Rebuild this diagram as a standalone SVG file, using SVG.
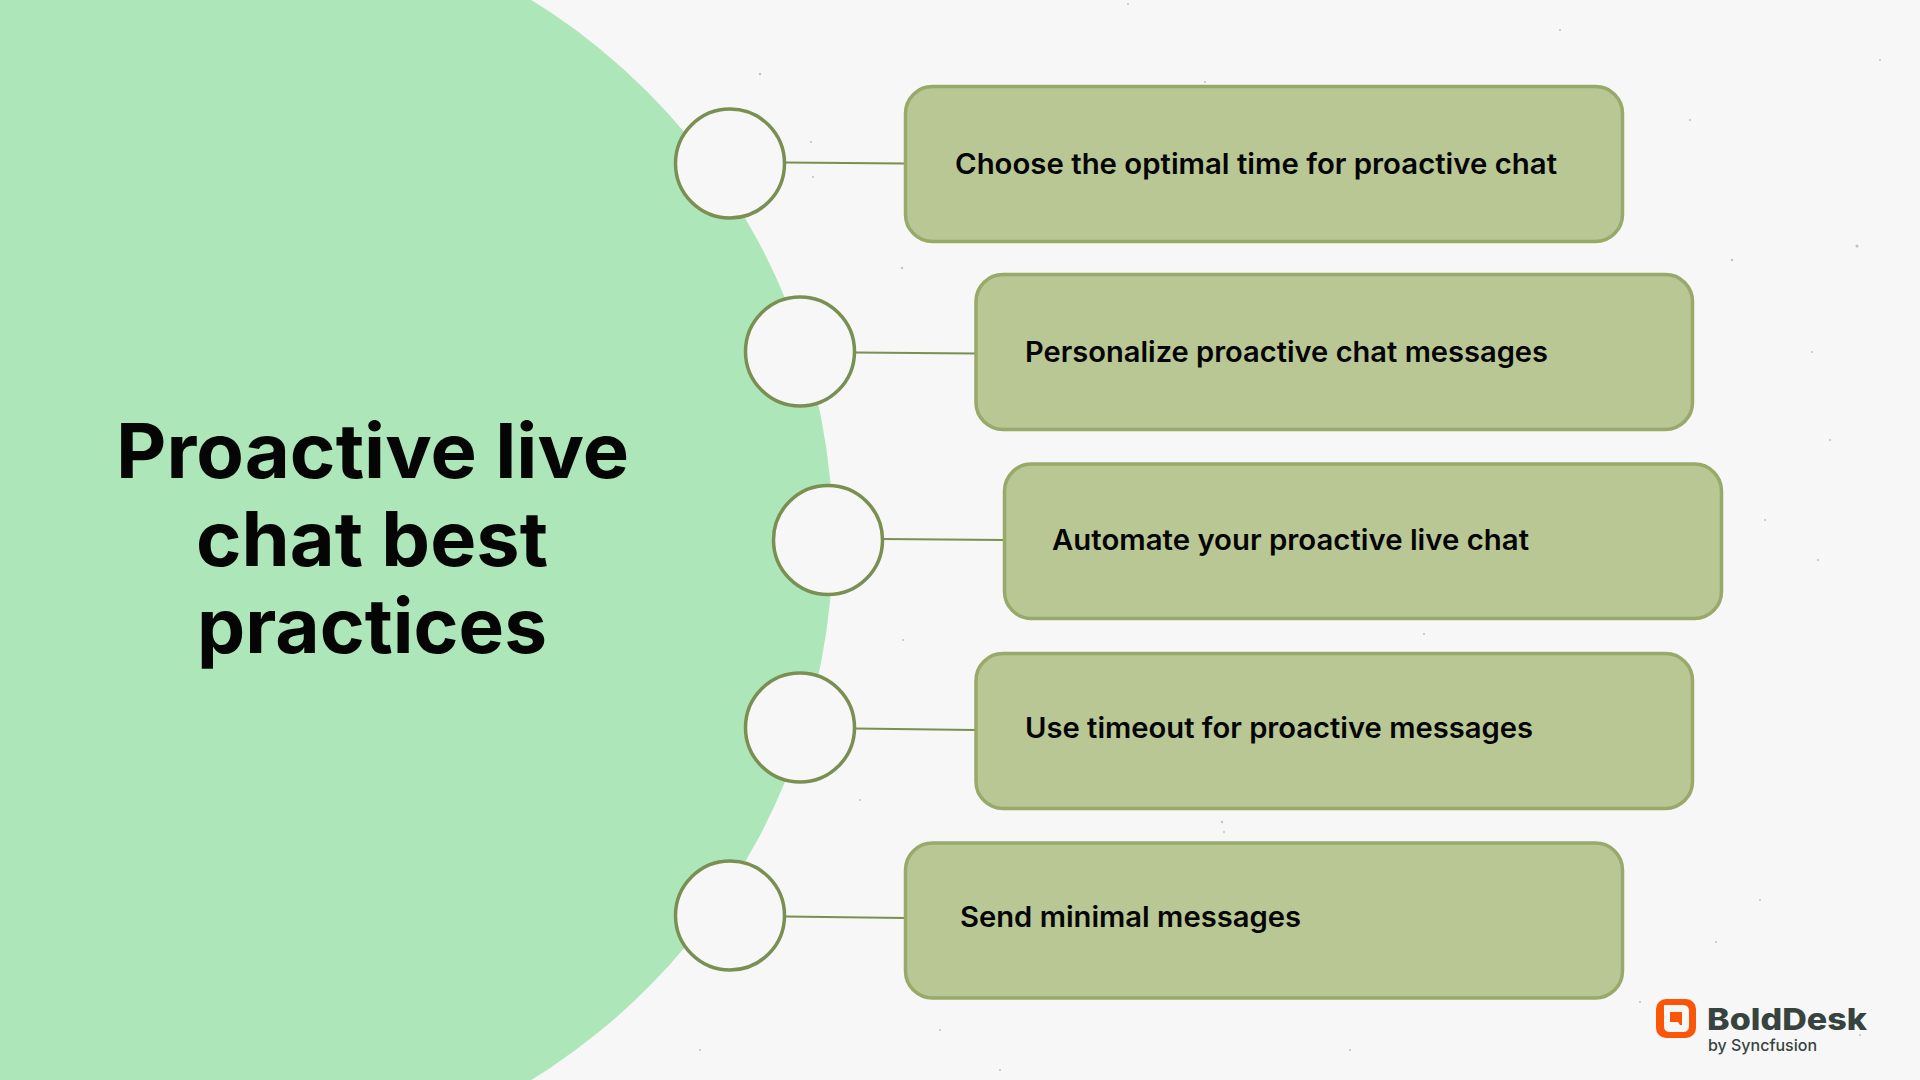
<svg xmlns="http://www.w3.org/2000/svg" width="1920" height="1080" viewBox="0 0 1920 1080">
<style>
.box{fill:#b9c795;stroke:#98a96a;stroke-width:3.500}
.dot{fill:#f7f7f7;stroke:#7a8f52;stroke-width:3.500}
.link{stroke:#7a8f52;stroke-width:2;fill:none}
.lbl{font-family:"Inter","Liberation Sans",sans-serif;font-weight:600;font-size:28px;fill:#050505}
.title{font-family:"Inter","Liberation Sans",sans-serif;font-weight:700;font-size:76px;fill:#050505}
.sp{fill:#8f9a8f;opacity:.55}
.logo{font-family:"Inter","Liberation Sans",sans-serif;fill:#37433f}
</style>
<rect width="1920" height="1080" fill="#f6f7f6"/>
<g id="specks" class="sp">
<circle cx="760" cy="74" r="1.2"/><circle cx="811" cy="142" r="1"/><circle cx="813" cy="177" r="1"/><circle cx="902" cy="268" r="1.2"/><circle cx="1128" cy="4" r="1"/><circle cx="1205" cy="82" r="1"/><circle cx="1690" cy="120" r="1"/><circle cx="1857" cy="246" r="1.5"/><circle cx="1732" cy="260" r="1.2"/><circle cx="1812" cy="352" r="1"/><circle cx="1830" cy="440" r="1"/><circle cx="1765" cy="520" r="1"/><circle cx="1818" cy="560" r="1"/><circle cx="1424" cy="634" r="1"/><circle cx="1222" cy="822" r="1.2"/><circle cx="1224" cy="832" r="1"/><circle cx="1760" cy="900" r="1"/><circle cx="1716" cy="942" r="1"/><circle cx="1640" cy="1002" r="1"/><circle cx="1860" cy="1035" r="1"/><circle cx="940" cy="1030" r="1"/><circle cx="700" cy="1050" r="1"/><circle cx="860" cy="800" r="1"/><circle cx="1560" cy="30" r="1"/><circle cx="1880" cy="60" r="1"/><circle cx="1000" cy="1070" r="1"/><circle cx="1350" cy="1050" r="1"/><circle cx="903" cy="640" r="1"/>
</g>
<circle id="backdrop" cx="199" cy="540" r="634" fill="#ade6b8"/>
<g id="connectors" class="link">
<path d="M785 162.500L905 163.500"/>
<path d="M855 352.500L975 353.500"/>
<path d="M883 539L1004 540"/>
<path d="M855 728.500L975 730"/>
<path d="M785 916.500L905 918"/>
</g>
<g id="node-title">
<text class="title" x="116" y="478" textLength="513" lengthAdjust="spacingAndGlyphs">Proactive live</text>
<text class="title" x="196" y="566" textLength="352" lengthAdjust="spacingAndGlyphs">chat best</text>
<text class="title" x="197" y="653" textLength="350" lengthAdjust="spacingAndGlyphs">practices</text>
</g>
<g id="node-1"><circle class="dot" cx="730" cy="163.500" r="54.500"/><rect class="box" x="905.500" y="86.500" width="717" height="155" rx="27"/><text class="lbl" x="955" y="174" textLength="602" lengthAdjust="spacingAndGlyphs">Choose the optimal time for proactive chat</text></g>
<g id="node-2"><circle class="dot" cx="800" cy="351.500" r="54.500"/><rect class="box" x="976" y="274.500" width="716.500" height="155" rx="27"/><text class="lbl" x="1025" y="362" textLength="523" lengthAdjust="spacingAndGlyphs">Personalize proactive chat messages</text></g>
<g id="node-3"><circle class="dot" cx="828" cy="540" r="54.500"/><rect class="box" x="1004.500" y="464" width="717" height="154.500" rx="27"/><text class="lbl" x="1052" y="550" textLength="477" lengthAdjust="spacingAndGlyphs">Automate your proactive live chat</text></g>
<g id="node-4"><circle class="dot" cx="800" cy="727.500" r="54.500"/><rect class="box" x="976" y="653.500" width="716.500" height="155" rx="27"/><text class="lbl" x="1025" y="738" textLength="508" lengthAdjust="spacingAndGlyphs">Use timeout for proactive messages</text></g>
<g id="node-5"><circle class="dot" cx="730" cy="915.500" r="54.500"/><rect class="box" x="905.500" y="843" width="717" height="155" rx="27"/><text class="lbl" x="960" y="927" textLength="341" lengthAdjust="spacingAndGlyphs">Send minimal messages</text></g>
<g id="logo">
<rect x="1656" y="999" width="40" height="39" rx="10" fill="#fb5607"/>
<path d="M1664 1005H1683Q1689 1005 1689 1011V1026Q1689 1032 1683 1032H1670Q1664 1032 1664 1026Z" fill="#f7f7f7"/>
<path d="M1670 1012H1682V1025H1680L1678 1022H1670Z" fill="#fb5607"/>
<text class="logo" x="1707" y="1030" font-weight="800" font-size="30" textLength="160" lengthAdjust="spacingAndGlyphs">BoldDesk</text>
<text class="logo" x="1708" y="1051" font-weight="500" font-size="16" textLength="109" lengthAdjust="spacingAndGlyphs">by Syncfusion</text>
</g>
</svg>
